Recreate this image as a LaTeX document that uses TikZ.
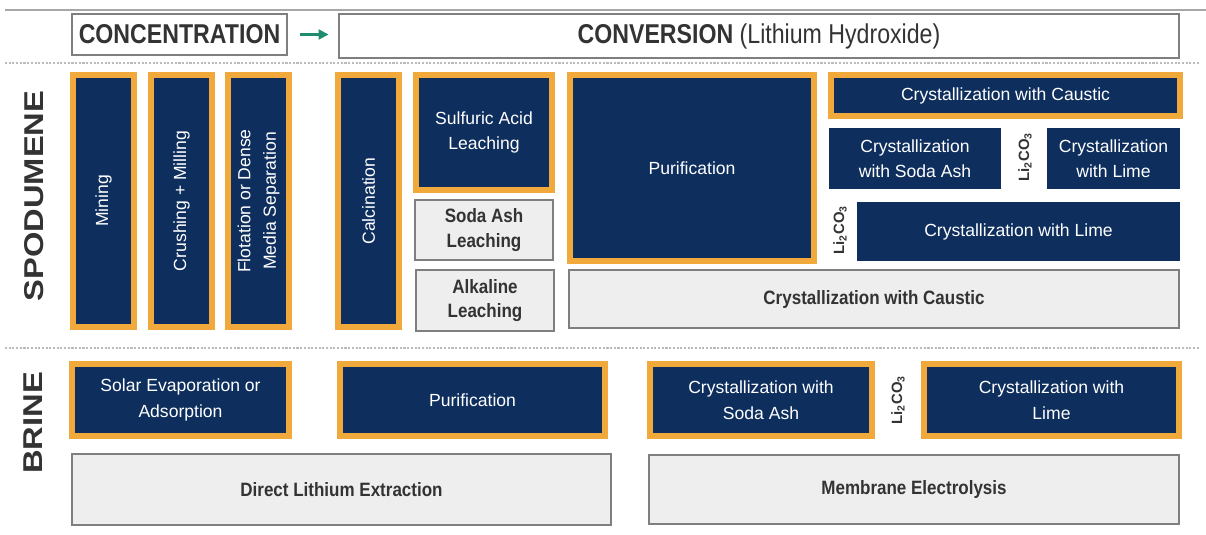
\documentclass[tikz,border=0pt]{standalone}
\usepackage{fontspec}
\setmainfont{Liberation Sans}
\newfontfamily\headfont{Liberation Sans}[FakeStretch=0.85]
\newfontfamily\narrowfont{Liberation Sans}[FakeStretch=0.88]
\newfontfamily\widefont{Liberation Sans}[FakeStretch=1.2]
\usetikzlibrary{arrows.meta,fit}
\definecolor{Navy}{HTML}{0E2F5E}
\definecolor{Amber}{HTML}{F2A93B}
\definecolor{Panel}{HTML}{EEEEEE}
\definecolor{Rim}{HTML}{7F7F7F}
\definecolor{Ink}{HTML}{333333}
\definecolor{Teal}{HTML}{1E8C70}
\definecolor{Rule}{HTML}{A8A8A8}
\definecolor{Dots}{HTML}{BBBBBB}
\begin{document}
\begin{tikzpicture}[
  x=0.02cm, y=-0.02cm,
  every node/.style={font=\fontsize{10}{14.5}\selectfont},
  stepbox/.style={draw=Amber,line width=3pt,fill=Navy,inner sep=0pt},
  flatbox/.style={fill=Navy,inner sep=0pt},
  altbox/.style={draw=Rim,line width=0.9pt,fill=Panel,inner sep=0pt},
  headbox/.style={draw=Rim,line width=0.9pt,fill=white,inner sep=0pt},
  say/.style={label={[text=white,align=center]center:#1}},
  upright/.style={label={[rotate=90,text=white,align=center]center:#1}},
  saybold/.style={label={[text=Ink,align=center,font=\narrowfont\bfseries\fontsize{11}{14}\selectfont]center:#1}},
  sayhead/.style={label={[text=Ink,font=\headfont\fontsize{15.5}{18}\selectfont]center:#1}},
  sidelabel/.style={rotate=90,text=Ink,font=\widefont\bfseries\fontsize{15.5}{18}\selectfont},
  lico/.style={rotate=90,text=Ink,inner sep=0pt,font=\bfseries\fontsize{8.5}{10}\selectfont},
  arr/.style={-{Triangle[length=2mm,width=2mm]},line width=1.2pt,color=Teal},
  sep/.style={Dots,line width=1.6pt,dash pattern=on 1.2pt off 0.9pt}
]
\useasboundingbox (0,0) rectangle (1206,534);
\draw[Rule,line width=1.2pt] (5,10) -- (1206,10);
\draw[sep] (5,63) -- (1200,63);
\draw[sep] (5,348) -- (1200,348);

\node[headbox,fit={(72,14) (287,55)},sayhead=\bfseries CONCENTRATION] (conc) {};
\node[headbox,fit={(339,14) (1179,58)},sayhead={\textbf{CONVERSION} (Lithium Hydroxide)}] (conv) {};

\node[sidelabel] (spod) at (34,196) {SPODUMENE};
\node[stepbox,fit={(73,75) (134,327)},upright=Mining] (mining) {};
\node[stepbox,fit={(151,75) (212,327)},upright=Crushing + Milling] (crush) {};
\node[stepbox,fit={(228,75) (289,327)},upright={Flotation or Dense\\Media Separation}] (flot) {};
\node[stepbox,fit={(338,75) (399,327)},upright=Calcination] (calc) {};
\node[stepbox,fit={(416,75) (552,190)},say={Sulfuric Acid\\Leaching}] (sulf) {};
\node[altbox,fit={(415,200) (553,260)},saybold={Soda Ash\\Leaching}] (sodaleach) {};
\node[altbox,fit={(416,270) (554,331)},saybold={Alkaline\\Leaching}] (alkleach) {};
\node[stepbox,fit={(570,75) (814,261)},say=Purification] (purif) {};
\node[altbox,fit={(569,270) (1179,328)},saybold=Crystallization with Caustic] (causticalt) {};
\node[stepbox,fit={(831,75) (1180,116)},say=Crystallization with Caustic] (caustic) {};
\node[flatbox,fit={(829,128) (1001,189)},say={Crystallization\\with Soda Ash}] (sodaash) {};
\node[lico] (licoa) at (1025,157) {Li\textsubscript{2}CO\textsubscript{3}};
\node[flatbox,fit={(1047,128) (1180,189)},say={Crystallization\\with Lime}] (limea) {};
\node[lico] (licob) at (840,230) {Li\textsubscript{2}CO\textsubscript{3}};
\node[flatbox,fit={(857,202) (1180,261)},say=Crystallization with Lime] (limeb) {};

\node[sidelabel] (brine) at (33,423) {BRINE};
\node[stepbox,fit={(72,364) (289,436)},say={Solar Evaporation or\\Adsorption}] (solar) {};
\node[stepbox,fit={(340,364) (605,436)},say=Purification] (bpurif) {};
\node[stepbox,fit={(650,364) (872,436)},say={Crystallization with\\Soda Ash}] (bsoda) {};
\node[lico] (licoc) at (898,400) {Li\textsubscript{2}CO\textsubscript{3}};
\node[stepbox,fit={(924,364) (1179,436)},say={Crystallization with\\Lime}] (blime) {};
\node[altbox,fit={(72,454) (611,525)},saybold=Direct Lithium Extraction] (dle) {};
\node[altbox,fit={(649,455) (1179,524)},saybold=Membrane Electrolysis] (membrane) {};

\draw[arr,shorten <=7pt,shorten >=5.5pt] (conc) -- (conc -| conv.west);
\end{tikzpicture}
\end{document}
